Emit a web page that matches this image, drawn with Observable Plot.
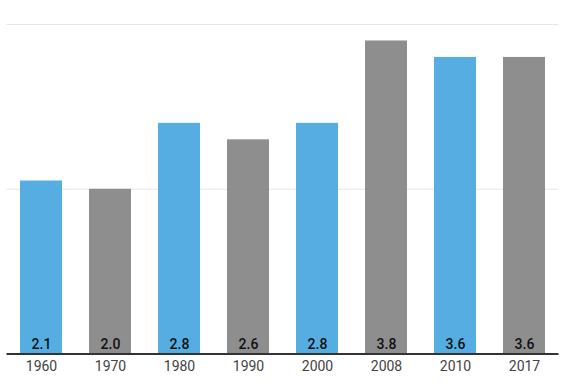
<!DOCTYPE html>
<html>
<head>
<meta charset="utf-8">
<script src="https://cdn.jsdelivr.net/npm/d3@7"></script>
<script src="https://cdn.jsdelivr.net/npm/@observablehq/plot@0.6"></script>
<style>
  html, body { margin: 0; padding: 0; background: #fff; }
  #chart svg { display: block; }
</style>
</head>
<body>
<div id="chart"></div>
<script>
const years = ["1960", "1970", "1980", "1990", "2000", "2008", "2010", "2017"];
const values = [2.1, 2.0, 2.8, 2.6, 2.8, 3.8, 3.6, 3.6];
const colors = ["#55ADE1", "#8E8E8E", "#55ADE1", "#8E8E8E", "#55ADE1", "#8E8E8E", "#55ADE1", "#8E8E8E"];
const gridTicks = [2, 4];

const data = years.map((y, i) => ({year: y, value: values[i], color: colors[i]}));

const chart = Plot.plot({
  width: 565,
  height: 383,
  marginLeft: 6.5,
  marginRight: 6.5,
  marginTop: 24,
  marginBottom: 29.5,
  style: {fontFamily: "Roboto, sans-serif", fontSize: "14px", background: "#fff"},
  x: {domain: years, paddingInner: 0.39, paddingOuter: 0.195, label: null},
  y: {domain: [0, 4], axis: null},
  marks: [
    Plot.gridY(gridTicks, {stroke: "#e6e6e6", strokeOpacity: 1, strokeWidth: 1}),
    Plot.barY(data, {x: "year", y: "value", fill: "color"}),
    Plot.ruleY([0], {stroke: "#333", strokeWidth: 2}),
    Plot.text(data, {x: "year", y: 0, text: d => d.value.toFixed(1), dy: -9, fill: "#111", fontWeight: 500, fontSize: 14}),
    Plot.axisX({tickSize: 0, tickPadding: 7, fill: "#444", fontSize: 14, label: null})
  ]
});
document.getElementById("chart").appendChild(chart);
</script>
</body>
</html>
